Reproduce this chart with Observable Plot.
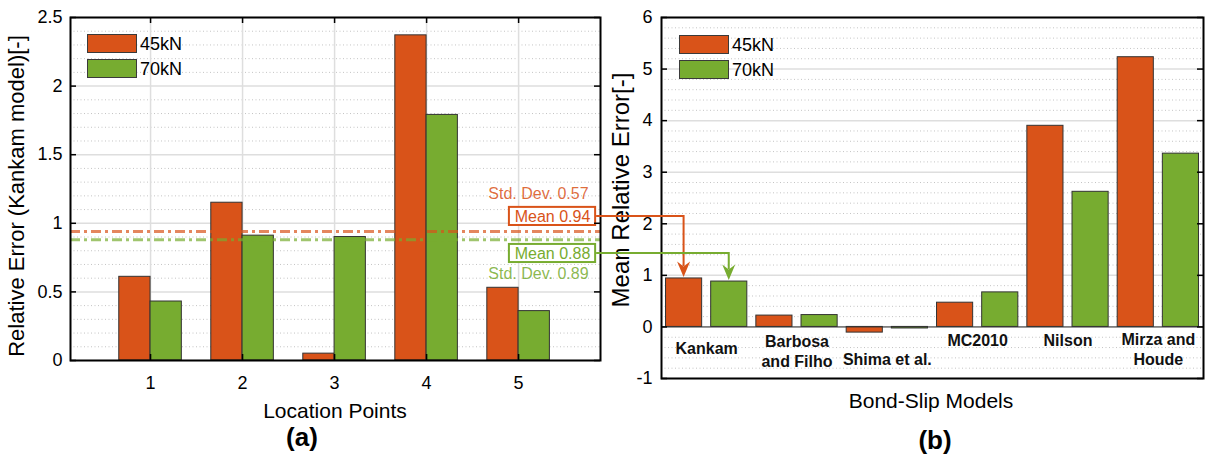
<!DOCTYPE html>
<html><head><meta charset="utf-8">
<script src="https://cdn.jsdelivr.net/npm/d3@7"></script>
<script src="https://cdn.jsdelivr.net/npm/@observablehq/plot@0.6"></script>
<style>
html,body{margin:0;padding:0;background:#fff;}
#fig{position:relative;width:1206px;height:456px;overflow:hidden;font-family:"Liberation Sans",Arial,sans-serif;color:#000;background:#fff;}
#fig svg.panel{position:absolute;top:0;}
.lbl{position:absolute;white-space:nowrap;transform:translate(-50%,-50%);line-height:1;}
.ylbl{transform:translate(-50%,-50%) rotate(-90deg);}
.sw{position:absolute;box-sizing:border-box;border:1px solid #3a3a3a;width:50px;height:19px;}
.lt{position:absolute;font-size:18px;line-height:1;transform:translateY(-50%);white-space:nowrap;}
</style></head><body><div id="fig"></div><script>
// ---------- data ----------
const locationPoints = [1, 2, 3, 4, 5];
const series = ["45kN", "70kN"];
const locErr45 = [0.61, 1.15, 0.05, 2.37, 0.53];
const locErr70 = [0.43, 0.91, 0.90, 1.79, 0.36];
const meanLoc = [0.94, 0.88];
const stdLoc = [0.57, 0.89];
const models = ["Kankam", "Barbosa\nand Filho", "Shima et al.", "MC2010", "Nilson", "Mirza and\nHoude"];
const modelErr45 = [0.94, 0.22, -0.11, 0.47, 3.90, 5.23];
const modelErr70 = [0.88, 0.23, -0.03, 0.67, 2.62, 3.36];
const yTicksA = [0, 0.5, 1, 1.5, 2, 2.5];
const yTicksB = [-1, 0, 1, 2, 3, 4, 5, 6];
const colors = ["#D95319", "#77AC30"];

// ---------- layout ----------
const A = {left: 0, width: 610, height: 456, ml: 70, mr: 10, mt: 17, mb: 96, xd: [0.13, 5.89], yd: [0, 2.5], bw: 0.34};
const B = {left: 610, width: 596, height: 456, ml: 51, mr: 3, mt: 17, mb: 78, xd: [0.5, 6.5], yd: [-1, 6], bw: 0.4, gap: 0.05};
const annA = {textX: 5.76, stdY: [1.217, 0.628], boxX1: 4.90, boxX2: 5.837, boxY: [1.05, 0.78], boxHalf: 0.066};
const modelLabelY = [-0.41, -0.456, -0.61, -0.24, -0.24, -0.417];

const tableA = series.flatMap((s, k) => locationPoints.map((p, i) => ({loc: p, series: s, k, value: (k ? locErr70 : locErr45)[i]})));
const tableB = series.flatMap((s, k) => models.map((m, i) => ({idx: i + 1, model: m, series: s, k, value: (k ? modelErr70 : modelErr45)[i]})));

const style = {fontFamily: "'Liberation Sans', Arial, sans-serif", fontSize: "18px", background: "transparent", overflow: "visible", color: "#000"};
const MAJOR = "#dedede", MINOR = "#c4c4c4";

const innerWA = A.width - A.ml - A.mr, innerHA = A.height - A.mt - A.mb;
const innerWB = B.width - B.ml - B.mr, innerHB = B.height - B.mt - B.mb;
const minorA = d3.range(0, 26).filter(i => i % 5 !== 0).map(i => i / 10);
const minorB = d3.range(-5, 31).filter(i => i % 5 !== 0).map(i => i / 5);

const plotA = Plot.plot({
  width: A.width, height: A.height,
  marginLeft: A.ml, marginRight: A.mr, marginTop: A.mt, marginBottom: A.mb,
  style,
  x: {type: "linear", domain: A.xd, axis: null},
  y: {type: "linear", domain: A.yd, axis: null},
  color: {domain: series, range: colors},
  marks: [
    Plot.ruleY(minorA, {stroke: MINOR, strokeWidth: 1, strokeDasharray: "1,2.5"}),
    Plot.ruleY(yTicksA, {stroke: MAJOR, strokeWidth: 1.5}),
    Plot.ruleX(locationPoints, {stroke: MAJOR, strokeWidth: 1.5}),
    Plot.rect(tableA, {x1: d => d.loc - (d.k ? 0 : A.bw), x2: d => d.loc + (d.k ? A.bw : 0), y1: 0, y2: "value", fill: "series", stroke: "#333", strokeWidth: 1}),
    Plot.ruleY([meanLoc[0]], {stroke: colors[0], strokeOpacity: 0.7, strokeWidth: 3, strokeDasharray: "10,4,3,4"}),
    Plot.ruleY([meanLoc[1]], {stroke: colors[1], strokeOpacity: 0.7, strokeWidth: 3, strokeDasharray: "10,4,3,4"}),
    Plot.text([0, 1], {x: () => annA.textX, y: k => annA.stdY[k], text: k => `Std. Dev. ${stdLoc[k].toFixed(2)}`, textAnchor: "end", fill: k => colors[k], fillOpacity: 0.85, fontSize: 16}),
    Plot.rect([0, 1], {x1: () => annA.boxX1, x2: () => annA.boxX2, y1: k => annA.boxY[k] - annA.boxHalf, y2: k => annA.boxY[k] + annA.boxHalf, fill: "white", stroke: k => colors[k], strokeWidth: 2}),
    Plot.text([0, 1], {x: () => (annA.boxX1 + annA.boxX2) / 2, y: k => annA.boxY[k], text: k => `Mean ${meanLoc[k].toFixed(2)}`, fill: k => colors[k], fontSize: 16}),
    Plot.ruleY(yTicksA, {stroke: "black", strokeWidth: 1.5, insetRight: innerWA - 6}),
    Plot.ruleY(yTicksA, {stroke: "black", strokeWidth: 1.5, insetLeft: innerWA - 6}),
    Plot.ruleX(locationPoints, {stroke: "black", strokeWidth: 1.5, insetTop: innerHA - 6}),
    Plot.ruleX(locationPoints, {stroke: "black", strokeWidth: 1.5, insetBottom: innerHA - 6}),
    Plot.frame({stroke: "black", strokeWidth: 2}),
    Plot.axisY(yTicksA, {anchor: "left", tickSize: 0, tickPadding: 8, tickFormat: d => String(d), label: null, fontSize: 18}),
    Plot.axisX(locationPoints, {anchor: "bottom", tickSize: 0, tickPadding: 16, tickFormat: d => String(d), label: null, fontSize: 18})
  ]
});

const plotB = Plot.plot({
  width: B.width, height: B.height,
  marginLeft: B.ml, marginRight: B.mr, marginTop: B.mt, marginBottom: B.mb,
  style,
  x: {type: "linear", domain: B.xd, axis: null},
  y: {type: "linear", domain: B.yd, axis: null},
  color: {domain: series, range: colors},
  marks: [
    Plot.ruleY(minorB, {stroke: MINOR, strokeWidth: 1, strokeDasharray: "1,2.5"}),
    Plot.ruleY(yTicksB, {stroke: MAJOR, strokeWidth: 1.5}),
    Plot.rect(tableB, {x1: d => d.idx + (d.k ? B.gap : -B.gap - B.bw), x2: d => d.idx + (d.k ? B.gap + B.bw : -B.gap), y1: 0, y2: "value", fill: "series", stroke: "#333", strokeWidth: 1}),
    Plot.ruleY([0], {stroke: "#333", strokeWidth: 1}),
    Plot.text(models, {x: (d, i) => i + 1, y: (d, i) => modelLabelY[i], text: d => d, fontWeight: "bold", fontSize: 16, lineHeight: 1.25, fill: "#111"}),
    Plot.ruleY(yTicksB, {stroke: "black", strokeWidth: 1.5, insetRight: innerWB - 6}),
    Plot.ruleY(yTicksB, {stroke: "black", strokeWidth: 1.5, insetLeft: innerWB - 6}),
    Plot.frame({stroke: "black", strokeWidth: 2}),
    Plot.axisY(yTicksB, {anchor: "left", tickSize: 0, tickPadding: 9, tickFormat: d => String(d), label: null, fontSize: 18})
  ]
});

const fig = document.getElementById("fig");
plotA.classList.add("panel"); plotA.style.left = A.left + "px";
plotB.classList.add("panel"); plotB.style.left = B.left + "px";
fig.appendChild(plotA);
fig.appendChild(plotB);

// ---------- labels ----------
function addLabel(text, x, y, css, cls) {
  const d = document.createElement("div");
  d.className = "lbl" + (cls ? " " + cls : "");
  d.textContent = text;
  d.style.left = x + "px"; d.style.top = y + "px";
  Object.assign(d.style, css);
  fig.appendChild(d);
}
addLabel("Relative Error (Kankam model)[-]", 17, 196, {fontSize: "22px"}, "ylbl");
addLabel("Location Points", 335, 410, {fontSize: "21px"});
addLabel("(a)", 302, 437, {fontSize: "26px", fontWeight: "bold"});
addLabel("Mean Relative Error[-]", 621, 190, {fontSize: "24px"}, "ylbl");
addLabel("Bond-Slip Models", 931, 400, {fontSize: "21px"});
addLabel("(b)", 935, 440, {fontSize: "26px", fontWeight: "bold"});

// ---------- legends ----------
function addLegend(x, y) {
  series.forEach((s, k) => {
    const sw = document.createElement("div");
    sw.className = "sw";
    sw.style.left = x + "px"; sw.style.top = (y + k * 25) + "px";
    sw.style.background = colors[k];
    fig.appendChild(sw);
    const t = document.createElement("div");
    t.className = "lt"; t.textContent = s;
    t.style.left = (x + 53) + "px"; t.style.top = (y + k * 25 + 10) + "px";
    fig.appendChild(t);
  });
}
addLegend(87, 34);
addLegend(679, 35);

// ---------- cross-panel arrows ----------
const xA = d3.scaleLinear(A.xd, [A.left + A.ml, A.left + A.width - A.mr]);
const yA = d3.scaleLinear(A.yd, [A.height - A.mb, A.mt]);
const xB = d3.scaleLinear(B.xd, [B.left + B.ml, B.left + B.width - B.mr]);
const yB = d3.scaleLinear(B.yd, [B.height - B.mb, B.mt]);
const ov = d3.select(fig).append("svg")
  .attr("width", 1206).attr("height", 456)
  .style("position", "absolute").style("left", 0).style("top", 0).style("pointer-events", "none");
[0, 1].forEach(k => {
  const sx = xA(annA.boxX2) + 1, sy = yA(annA.boxY[k]);
  const ex = xB(1 + (k ? 1 : -1) * (B.gap + B.bw / 2));
  const ey = yB((k ? modelErr70 : modelErr45)[0]) - 1;
  ov.append("path").attr("d", `M${sx},${sy}H${ex}V${ey - 11}`)
    .attr("fill", "none").attr("stroke", colors[k]).attr("stroke-width", 2);
  ov.append("path").attr("d", `M${ex},${ey}L${ex - 6.5},${ey - 15.5}L${ex},${ey - 10.5}L${ex + 6.5},${ey - 15.5}Z`)
    .attr("fill", colors[k]);
});
</script></body></html>
